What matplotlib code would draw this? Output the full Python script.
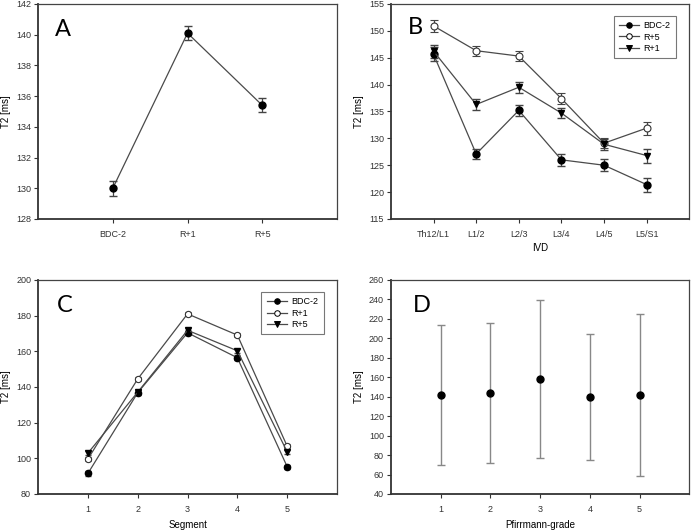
import numpy as np
import matplotlib.pyplot as plt
from matplotlib.lines import Line2D

plt.rcParams['font.family'] = ['Liberation Sans', 'DejaVu Sans']

# Panel A
a_labels = ['BDC-2', 'R+1', 'R+5']
a_mean = [130.0, 140.1, 135.4]
a_err = [0.5, 0.45, 0.45]

# Panel B
b_labels = ['Th12/L1', 'L1/2', 'L2/3', 'L3/4', 'L4/5', 'L5/S1']
b_bdc = [145.6, 127.1, 135.2, 126.0, 125.0, 121.4]
b_bdc_err = [1.3, 1.0, 1.0, 1.1, 1.1, 1.3]
b_r5 = [150.9, 146.3, 145.3, 137.4, 129.1, 131.9]
b_r5_err = [1.1, 0.9, 0.9, 1.0, 0.9, 1.2]
b_r1 = [146.2, 136.3, 139.5, 134.7, 128.9, 126.8]
b_r1_err = [1.2, 1.0, 1.0, 1.0, 1.0, 1.3]

# Panel C
c_seg = [1, 2, 3, 4, 5]
c_bdc = [91.5, 136.8, 170.4, 156.4, 95.3]
c_bdc_err = [1.2, 1.3, 1.3, 1.3, 1.2]
c_r1 = [99.6, 144.5, 181.0, 169.1, 106.8]
c_r1_err = [1.2, 1.2, 1.2, 1.2, 1.2]
c_r5 = [102.9, 137.1, 171.8, 160.3, 103.6]
c_r5_err = [1.2, 1.2, 1.2, 1.2, 1.2]

# Panel D
d_grade = [1, 2, 3, 4, 5]
d_mean = [141.8, 143.9, 158.2, 139.8, 141.8]
d_err = [72.0, 71.6, 81.5, 64.4, 83.2]

line_col = '#4a4a4a'
err_col = '#444444'
tick_fs = 6.5
lab_fs = 7


def style_axes(ax):
    for s in ['top', 'right']:
        ax.spines[s].set_color('#444444')
        ax.spines[s].set_linewidth(0.9)
    for s in ['left', 'bottom']:
        ax.spines[s].set_color('#333333')
        ax.spines[s].set_linewidth(1.3)
    ax.tick_params(direction='out', length=3, width=0.8, colors='#333333',
                   labelsize=tick_fs, pad=2, top=False, right=False)
    ax.tick_params(axis='x', pad=5)


def panel_letter(ax, txt, x, y):
    ax.text(x, y, txt, transform=ax.transAxes, fontsize=17, family=['Lato', 'DejaVu Sans'],
            va='top', ha='left')


def add_legend(ax, names, markers, fills):
    handles = [Line2D([], [], color=line_col, lw=0.9, marker=m, ms=4, mfc=f,
                      mec='black', mew=0.7) for m, f in zip(markers, fills)]
    leg = ax.legend(handles, names, loc='upper right', fontsize=6.5, frameon=True,
                    fancybox=False, edgecolor='#555555', handlelength=2.2,
                    borderpad=0.6, labelspacing=0.25, handletextpad=0.5,
                    bbox_to_anchor=(0.97, 0.965))
    leg.get_frame().set_linewidth(0.8)


fig = plt.figure(figsize=(6.92, 5.31), dpi=100)

# A
axA = fig.add_axes([0.055, 0.5876, 0.432, 0.405])
xa = np.arange(1, len(a_labels) + 1)
axA.errorbar(xa, a_mean, yerr=a_err, color=line_col, lw=0.9, marker='o', ms=5,
             mfc='black', mec='black', ecolor=err_col, elinewidth=0.9, capsize=3)
axA.set_xlim(0, 4)
axA.set_ylim(128, 142)
axA.set_yticks(np.arange(128, 143, 2))
axA.set_xticks(xa)
axA.set_xticklabels(a_labels)
axA.set_ylabel('T2 [ms]', fontsize=lab_fs)
axA.yaxis.set_label_coords(-0.092, 0.5)
style_axes(axA)
panel_letter(axA, 'A', 0.058, 0.93)

# B
axB = fig.add_axes([0.565, 0.5876, 0.431, 0.405])
xb = np.arange(1, len(b_labels) + 1)
axB.errorbar(xb, b_bdc, yerr=b_bdc_err, color=line_col, lw=0.9, marker='o', ms=5,
             mfc='black', mec='black', ecolor=err_col, elinewidth=0.9, capsize=3)
axB.errorbar(xb, b_r5, yerr=b_r5_err, color=line_col, lw=0.9, marker='o', ms=5,
             mfc='white', mec='#333333', mew=0.8, ecolor=err_col, elinewidth=0.9, capsize=3)
axB.errorbar(xb, b_r1, yerr=b_r1_err, color=line_col, lw=0.9, marker='v', ms=5,
             mfc='black', mec='black', ecolor=err_col, elinewidth=0.9, capsize=3)
axB.set_xlim(0, 7)
axB.set_ylim(115, 155)
axB.set_yticks(np.arange(115, 156, 5))
axB.set_xticks(xb)
axB.set_xticklabels(b_labels)
axB.set_ylabel('T2 [ms]', fontsize=lab_fs)
axB.yaxis.set_label_coords(-0.09, 0.5)
axB.set_xlabel('IVD', fontsize=lab_fs)
axB.xaxis.set_label_coords(0.5, -0.11)
style_axes(axB)
panel_letter(axB, 'B', 0.055, 0.94)
add_legend(axB, ['BDC-2', 'R+5', 'R+1'], ['o', 'o', 'v'], ['black', 'white', 'black'])

# C
axC = fig.add_axes([0.055, 0.0697, 0.432, 0.403])
axC.errorbar(c_seg, c_bdc, yerr=c_bdc_err, color=line_col, lw=0.9, marker='o', ms=4.5,
             mfc='black', mec='black', ecolor=err_col, elinewidth=0.9, capsize=2.5)
axC.errorbar(c_seg, c_r1, yerr=c_r1_err, color=line_col, lw=0.9, marker='o', ms=4.5,
             mfc='white', mec='#333333', mew=0.8, ecolor=err_col, elinewidth=0.9, capsize=2.5)
axC.errorbar(c_seg, c_r5, yerr=c_r5_err, color=line_col, lw=0.9, marker='v', ms=4.5,
             mfc='black', mec='black', ecolor=err_col, elinewidth=0.9, capsize=2.5)
axC.set_xlim(0, 6)
axC.set_ylim(80, 200)
axC.set_yticks(np.arange(80, 201, 20))
axC.set_xticks(c_seg)
axC.set_ylabel('T2 [ms]', fontsize=lab_fs)
axC.yaxis.set_label_coords(-0.09, 0.5)
axC.set_xlabel('Segment', fontsize=lab_fs)
axC.xaxis.set_label_coords(0.5, -0.123)
style_axes(axC)
panel_letter(axC, 'C', 0.062, 0.93)
add_legend(axC, ['BDC-2', 'R+1', 'R+5'], ['o', 'o', 'v'], ['black', 'white', 'black'])

# D
axD = fig.add_axes([0.565, 0.0697, 0.431, 0.403])
axD.errorbar(d_grade, d_mean, yerr=d_err, fmt='o', ms=5, mfc='black', mec='black',
             ecolor='#888888', elinewidth=1.0, capsize=3)
axD.set_xlim(0, 6)
axD.set_ylim(40, 260)
axD.set_yticks(np.arange(40, 261, 20))
axD.set_xticks(d_grade)
axD.set_ylabel('T2 [ms]', fontsize=lab_fs)
axD.yaxis.set_label_coords(-0.09, 0.5)
axD.set_xlabel('Pfirrmann-grade', fontsize=lab_fs)
axD.xaxis.set_label_coords(0.5, -0.123)
style_axes(axD)
panel_letter(axD, 'D', 0.075, 0.93)

fig.savefig('out.png', dpi=100)
